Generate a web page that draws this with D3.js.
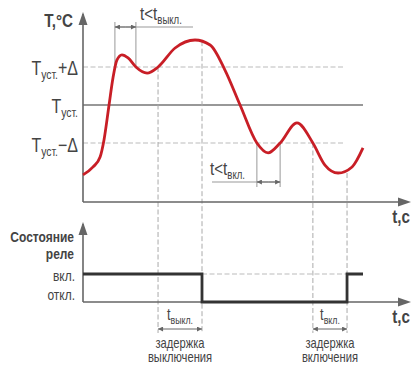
<!DOCTYPE html>
<html><head><meta charset="utf-8">
<script src="https://cdn.jsdelivr.net/npm/d3@7"></script>
<style>
body{margin:0;background:#fff;}
text{font-family:"Liberation Sans","Arial",sans-serif;fill:#444;}
</style></head><body>
<svg id="c" width="418" height="375"></svg>
<script>
// Temperature curve: time (arbitrary units) and temperature (Tуст = 0, Δ = 1)
const tempTime = [0,3.6,6.1,7.5,9.3,10.7,12.1,13.9,16.1,18.9,22.9,26.8,32.9,40,45.4,50.7,56.1,62.1,66.1,70.4,76.4,82.1,86.4,91.1,96.1,100];
const tempValue = [-1.84,-1.63,-1.37,-0.92,0,0.71,1.18,1.32,1.24,1.0,0.84,1.0,1.5,1.71,1.58,0.92,0,-1.0,-1.26,-1.0,-0.47,-1.0,-1.58,-1.79,-1.63,-1.13];
// Relay state (1 = вкл., 0 = откл.)
const relayTime = [0,42.5,94.3,100];
const relayState = [1,0,1,1];
// Events
const offTrigger = 26.8, offSwitch = 42.5;   // T > Tуст+Δ, delay tвыкл
const onTrigger = 82.1, onSwitch = 94.3;     // T < Tуст-Δ, delay tвкл
const shortHigh = [11.4, 18.9];  // t < tвыкл
const shortLow = [62.1, 70.4];   // t < tвкл

const svg = d3.select("#c");
const x = d3.scaleLinear().domain([0,100]).range([83,363]);
const yT = d3.scaleLinear().domain([-1,1]).range([143,67]);
const yR = d3.scaleLinear().domain([0,1]).range([302,274]);
const axisColor = "#666";
const gray = "#999";
const SX = 0.8;

const defs = svg.append("defs");
defs.append("marker").attr("id","ah").attr("viewBox","0 0 10 10").attr("refX",10).attr("refY",5)
  .attr("markerWidth",7).attr("markerHeight",5).attr("markerUnits","userSpaceOnUse").attr("orient","auto-start-reverse")
  .append("path").attr("d","M0,0L10,5L0,10Z").attr("fill","#666");

function line(x1,y1,x2,y2,stroke,w,dash){
  const l=svg.append("line").attr("x1",x1).attr("y1",y1).attr("x2",x2).attr("y2",y2).attr("stroke",stroke).attr("stroke-width",w);
  if(dash) l.attr("stroke-dasharray",dash);
  return l;
}
function tri(px,py,dir){
  const L=13,W=4.5;
  let p;
  if(dir==="up") p=[[px,py],[px-W,py+L],[px+W,py+L]];
  else p=[[px,py],[px-L,py-W],[px-L,py+W]];
  svg.append("polygon").attr("points",p.map(d=>d.join(",")).join(" ")).attr("fill",axisColor);
}
function txt(xp,yp,anchor,size,weight){
  return svg.append("text").attr("transform",`translate(${xp},${yp}) scale(${SX},1)`)
    .attr("text-anchor",anchor).attr("font-size",size).attr("font-weight",weight||"normal");
}
function sub(xp,yp,main,subt,rest,size,subSize,anchor){
  const t=txt(xp,yp,anchor,size);
  t.append("tspan").text(main);
  t.append("tspan").attr("font-size",subSize).attr("dy",4).text(subt);
  if(rest) t.append("tspan").attr("dy",-4).text(rest);
  return t;
}

// dashed level lines
svg.selectAll(".lvl").data([1,-1]).enter().append("line")
  .attr("x1",x(0)).attr("x2",345).attr("y1",d=>yT(d)).attr("y2",d=>yT(d))
  .attr("stroke","#bbb").attr("stroke-width",1.2).attr("stroke-dasharray","5,2.5");
// setpoint line
line(x(0),yT(0),x(100),yT(0),"#333",1.1);

// vertical dashed event lines
const evLines = [[offTrigger,yT(1)],[offSwitch,yT(1.68)],[onTrigger,yT(-1)],[onSwitch,yT(-1.79)]];
svg.selectAll(".ev").data(evLines).enter().append("line")
  .attr("x1",d=>x(d[0])).attr("x2",d=>x(d[0])).attr("y1",d=>d[1]).attr("y2",333)
  .attr("stroke","#aaa").attr("stroke-width",1).attr("stroke-dasharray","5,2.5");

// dashed вкл level in relay chart
line(x(offSwitch),yR(1),x(onSwitch),yR(1),"#bbb",1.2,"5,2.5");

// bracket t<tвыкл
shortHigh.forEach(t=>line(x(t),22,x(t),yT(1),gray,1));
line(x(shortHigh[0]),27,193,27,gray,1);
const mid1=(x(shortHigh[0])+x(shortHigh[1]))/2;
line(mid1,27,x(shortHigh[0]),27,"#666",1).attr("marker-end","url(#ah)");
line(mid1,27,x(shortHigh[1]),27,"#666",1).attr("marker-end","url(#ah)");

// bracket t<tвкл
shortLow.forEach(t=>line(x(t),yT(-1),x(t),187,gray,1));
line(212,182,x(shortLow[1]),182,gray,1);
const mid2=(x(shortLow[0])+x(shortLow[1]))/2;
line(mid2,182,x(shortLow[0]),182,"#666",1).attr("marker-end","url(#ah)");
line(mid2,182,x(shortLow[1]),182,"#666",1).attr("marker-end","url(#ah)");

// delay brackets bottom
[[offTrigger,offSwitch],[onTrigger,onSwitch]].forEach(([a,b])=>{
  const m=(x(a)+x(b))/2;
  line(m,329,x(a),329,"#666",1).attr("marker-end","url(#ah)");
  line(m,329,x(b),329,"#666",1).attr("marker-end","url(#ah)");
});

// axes
line(x(0),14,x(0),202,axisColor,1.6);
line(x(0),202,405,202,axisColor,1.6);
tri(x(0),12,"up"); tri(411,202,"right");
line(x(0),224,x(0),302,axisColor,1.6);
line(x(0),302,405,302,axisColor,1.6);
tri(x(0),222,"up"); tri(411,302,"right");

// temperature curve
const tempData = tempTime.map((t,i)=>({t,v:tempValue[i]}));
svg.append("path").datum(tempData)
  .attr("d",d3.line().x(d=>x(d.t)).y(d=>yT(d.v)).curve(d3.curveMonotoneX))
  .attr("fill","none").attr("stroke","#c81e26").attr("stroke-width",2.8);

// relay line
const relayData = relayTime.map((t,i)=>({t,s:relayState[i]}));
svg.append("path").datum(relayData)
  .attr("d",d3.line().x(d=>x(d.t)).y(d=>yR(d.s)).curve(d3.curveStepAfter))
  .attr("fill","none").attr("stroke","#333").attr("stroke-width",2.8);

// texts
txt(73,27,"end",19,"bold").text("T,°C");
sub(78,75,"T","уст.","+Δ",20,13,"end");
sub(78,113,"T","уст.",null,20,13,"end");
sub(78,152,"T","уст.","−Δ",20,13,"end");
sub(140,20,"t<t","выкл.",null,19,12,"start");
sub(210,175,"t<t","вкл.",null,19,12,"start");
txt(410,223,"end",19,"bold").text("t,c");
txt(410,323,"end",19,"bold").text("t,c");
txt(74,242,"end",15,"bold").text("Состояние");
txt(74,259,"end",15,"bold").text("реле");
txt(75,281,"end",15).text("вкл.");
txt(75,300,"end",15).text("откл.");
sub((x(offTrigger)+x(offSwitch))/2,320,"t","выкл.",null,16,11,"middle");
sub((x(onTrigger)+x(onSwitch))/2,320,"t","вкл.",null,16,11,"middle");
[[offTrigger,offSwitch,"выключения"],[onTrigger,onSwitch,"включения"]].forEach(([a,b,w])=>{
  const cx=(x(a)+x(b))/2;
  txt(cx,348,"middle",14).text("задержка");
  txt(cx,362,"middle",14).text(w);
});
</script></body></html>
